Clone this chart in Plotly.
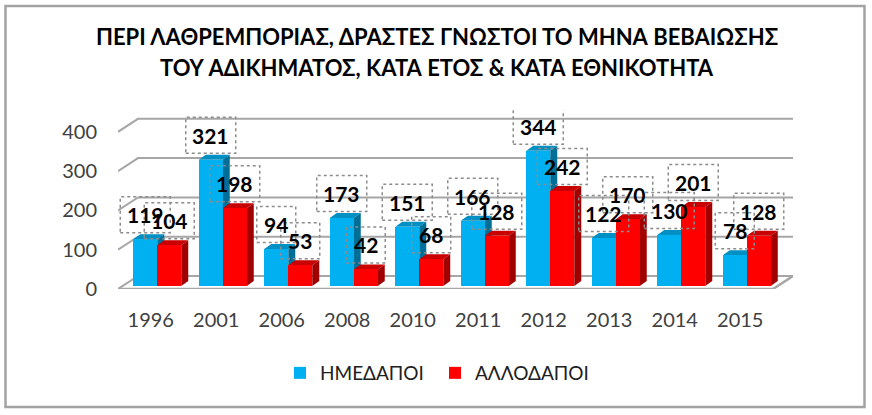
import plotly.graph_objects as go

years = ["1996", "2001", "2006", "2008", "2010", "2011", "2012", "2013", "2014", "2015"]
domestic = [119, 321, 94, 173, 151, 166, 344, 122, 130, 78]
foreign = [104, 198, 53, 42, 68, 128, 242, 170, 201, 128]
y_ticks = [0, 100, 200, 300, 400]
title_lines = ["ΠΕΡΙ ΛΑΘΡΕΜΠΟΡΙΑΣ, ΔΡΑΣΤΕΣ ΓΝΩΣΤΟΙ ΤΟ ΜΗΝΑ ΒΕΒΑΙΩΣΗΣ",
               "ΤΟΥ ΑΔΙΚΗΜΑΤΟΣ, ΚΑΤΑ ΕΤΟΣ & ΚΑΤΑ ΕΘΝΙΚΟΤΗΤΑ"]

W, H = 872, 415
L, R, T, B = 118, 793, 110, 289
PX_X = 65.5
PX_Y = 0.393
x_min = -0.5
x_max = x_min + (R - L) / PX_X
y_max = (B - T) / PX_Y
xu = lambda p: p / PX_X
yu = lambda p: p / PX_Y

wall_dx, wall_dy = xu(20), yu(13)
bar_w = xu(24)
bar_shift = xu(6.5)
base = yu(3)
dx, dy = xu(7), yu(5)

fig = go.Figure()

# floor + walls
fx, fy = [], []
for v in y_ticks:
    fx += [x_min, x_min + wall_dx, x_max, None]
    fy += [v, v + wall_dy, v + wall_dy, None]
fig.add_trace(go.Scatter(x=fx, y=fy, mode="lines", line=dict(color="#a6a6a6", width=2),
                         hoverinfo="skip", showlegend=False, cliponaxis=False))
fl_r = x_max - wall_dx
fig.add_trace(go.Scatter(x=[x_min, fl_r, x_max], y=[0, 0, wall_dy], mode="lines",
                         line=dict(color="#a6a6a6", width=2.5), hoverinfo="skip", showlegend=False,
                         cliponaxis=False))


def faces(values, left_off):
    sx, sy, tx, ty = [], [], [], []
    for i, v in enumerate(values):
        l = i + left_off
        r = l + bar_w
        top = base + v
        sx += [r, r + dx, r + dx, r, r, None]
        sy += [base, base + dy, top + dy, top, base, None]
        tx += [l, l + dx, r + dx, r, l, None]
        ty += [top, top + dy, top + dy, top, top, None]
    return sx, sy, tx, ty


def add_faces(values, left_off, side, top):
    sx, sy, tx, ty = faces(values, left_off)
    for a, b, c in ((sx, sy, side), (tx, ty, top)):
        fig.add_trace(go.Scatter(x=a, y=b, mode="lines", fill="toself", fillcolor=c,
                                 line=dict(width=0, color=c), hoverinfo="skip", showlegend=False))


add_faces(domestic, bar_shift - bar_w, "#006f98", "#0090c4")
add_faces(foreign, bar_shift, "#a00000", "#c80000")

xs = list(range(len(years)))
fig.add_trace(go.Bar(x=xs, y=domestic, base=base, name="ΗΜΕΔΑΠΟΙ", width=bar_w, offset=bar_shift - bar_w,
                     marker=dict(color="#00b0f0", line=dict(width=0)), xaxis="x2", yaxis="y2"))
fig.add_trace(go.Bar(x=xs, y=foreign, base=base, name="ΑΛΛΟΔΑΠΟΙ", width=bar_w, offset=bar_shift,
                     marker=dict(color="#ff0000", line=dict(width=0)), xaxis="x2", yaxis="y2"))

box_h = yu(36)
for series, sign in ((domestic, -1), (foreign, 1)):
    for i, v in enumerate(series):
        cx = i + bar_shift + sign * bar_w / 2
        half = xu(25) if v >= 100 else xu(19.5)
        y0 = base + v + dy + yu(1.5)
        fig.add_shape(type="rect", xref="x", yref="y", x0=cx - half, x1=cx + half, y0=y0, y1=y0 + box_h,
                      line=dict(color="#8c8c8c", width=1.5, dash="dot"), layer="above")
        fig.add_annotation(x=cx, y=y0 + box_h / 2, xref="x", yref="y", text=str(v), showarrow=False,
                           font=dict(family="Lato", size=21, color="#000000", weight="bold"))

# outer frame
px = lambda p: (p - L) / (R - L)
py = lambda p: (B - p) / (B - T)
fig.add_shape(type="rect", xref="paper", yref="paper",
              x0=px(5.5), x1=px(864.5), y0=py(407), y1=py(6),
              line=dict(color="#a3a3a3", width=2.5), layer="below")

for k, t in enumerate(title_lines):
    fig.add_annotation(xref="paper", yref="paper", x=px(437), y=py(37 + 31 * k), yanchor="middle", text=t,
                       showarrow=False, font=dict(family="Lato", size=22, color="#000000", weight="bold"))

fig.update_layout(
    width=W, height=H, margin=dict(l=L, r=W - R, t=T, b=H - B, pad=0, autoexpand=False),
    paper_bgcolor="white", plot_bgcolor="white", barmode="overlay", bargap=0,
    font=dict(family="Lato", size=19, color="#404040"),
    xaxis=dict(range=[x_min, x_max], tickvals=xs, ticktext=years, showgrid=False, zeroline=False,
               showline=False, ticks="", ticklabelstandoff=17, tickfont=dict(size=20)),
    yaxis=dict(range=[0, y_max], tickvals=y_ticks, showgrid=False, zeroline=False, showline=False,
               ticks="", ticklabelstandoff=20, tickfont=dict(size=20)),
    xaxis2=dict(range=[x_min, x_max], overlaying="x", visible=False),
    yaxis2=dict(range=[0, y_max], overlaying="y", visible=False),
    legend=dict(orientation="h", x=px(292), xanchor="left", y=py(373), yanchor="middle",
                font=dict(size=19, color="#202020"), itemwidth=30, indentation=-12,
                entrywidth=122, entrywidthmode="pixels", bgcolor="rgba(0,0,0,0)"),
)
fig.write_html("out.html", post_script="document.body.style.margin='0';",
               config={"displayModeBar": False})
